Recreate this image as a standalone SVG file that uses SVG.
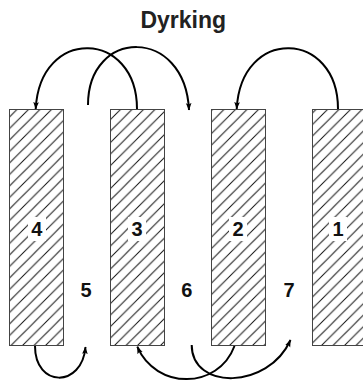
<svg xmlns="http://www.w3.org/2000/svg" width="363" height="381" viewBox="0 0 363 381">
<style>
.title{font-family:"Liberation Sans",Arial,sans-serif;font-weight:bold;font-size:23px;fill:#222;text-anchor:middle}
.num{font-family:"Liberation Sans",Arial,sans-serif;font-weight:bold;font-size:20px;fill:#111;text-anchor:middle}
.bed{fill:url(#hatch);stroke:#444;stroke-width:1}
.bg{fill:#fff}
.arc{fill:none;stroke:#000;stroke-width:2;marker-end:url(#ah)}
</style>
<defs>
<pattern id="hatch" patternUnits="userSpaceOnUse" width="11.5" height="11.5">
<path d="M-1,1 L1,-1 M0,11.5 L11.5,0 M10.5,12.5 L12.5,10.5" stroke="#111" stroke-width="1"/>
</pattern>
<marker id="ah" markerUnits="userSpaceOnUse" markerWidth="10" markerHeight="8" refX="7" refY="4" orient="auto" viewBox="0 0 10 8">
<path d="M0,1.2 L7.5,4 L0,6.8 L1.5,4 Z" fill="#000"/>
</marker>
</defs>
<text class="title" x="183.3" y="28.3">Dyrking</text>
<g id="bed4"><rect class="bed" x="9.5" y="109.5" width="54" height="236"/><rect class="bg" x="28" y="217" width="18" height="24"/><text class="num" x="36.8" y="236">4</text></g>
<g id="bed3"><rect class="bed" x="110.5" y="109.5" width="54" height="236"/><rect class="bg" x="128" y="217" width="18" height="24"/><text class="num" x="137" y="236">3</text></g>
<g id="bed2"><rect class="bed" x="211.5" y="109.5" width="54" height="236"/><rect class="bg" x="229" y="217" width="18" height="24"/><text class="num" x="238" y="236">2</text></g>
<g id="bed1"><rect class="bed" x="312.5" y="109.5" width="56" height="236"/><rect class="bg" x="329" y="217" width="18" height="24"/><text class="num" x="338" y="236">1</text></g>
<g id="gap5"><text class="num" x="86" y="297.3">5</text></g>
<g id="gap6"><text class="num" x="186.7" y="297.3">6</text></g>
<g id="gap7"><text class="num" x="289" y="297.3">7</text></g>
<g id="connectors">
<path class="arc" d="M137,109 C137,30 40,26 35.7,109"/>
<path class="arc" d="M88,105 C88,28 185,26 189,110"/>
<path class="arc" d="M338,109 C338,30 241,26 236.7,109"/>
<path class="arc" d="M35,346 C35,388 82,388 85.5,347"/>
<path class="arc" d="M234.5,346 C218,390 156,390 137.3,346.7"/>
<path class="arc" d="M191.7,345 C191.7,390 268,390 290.5,340"/>
</g>
</svg>
